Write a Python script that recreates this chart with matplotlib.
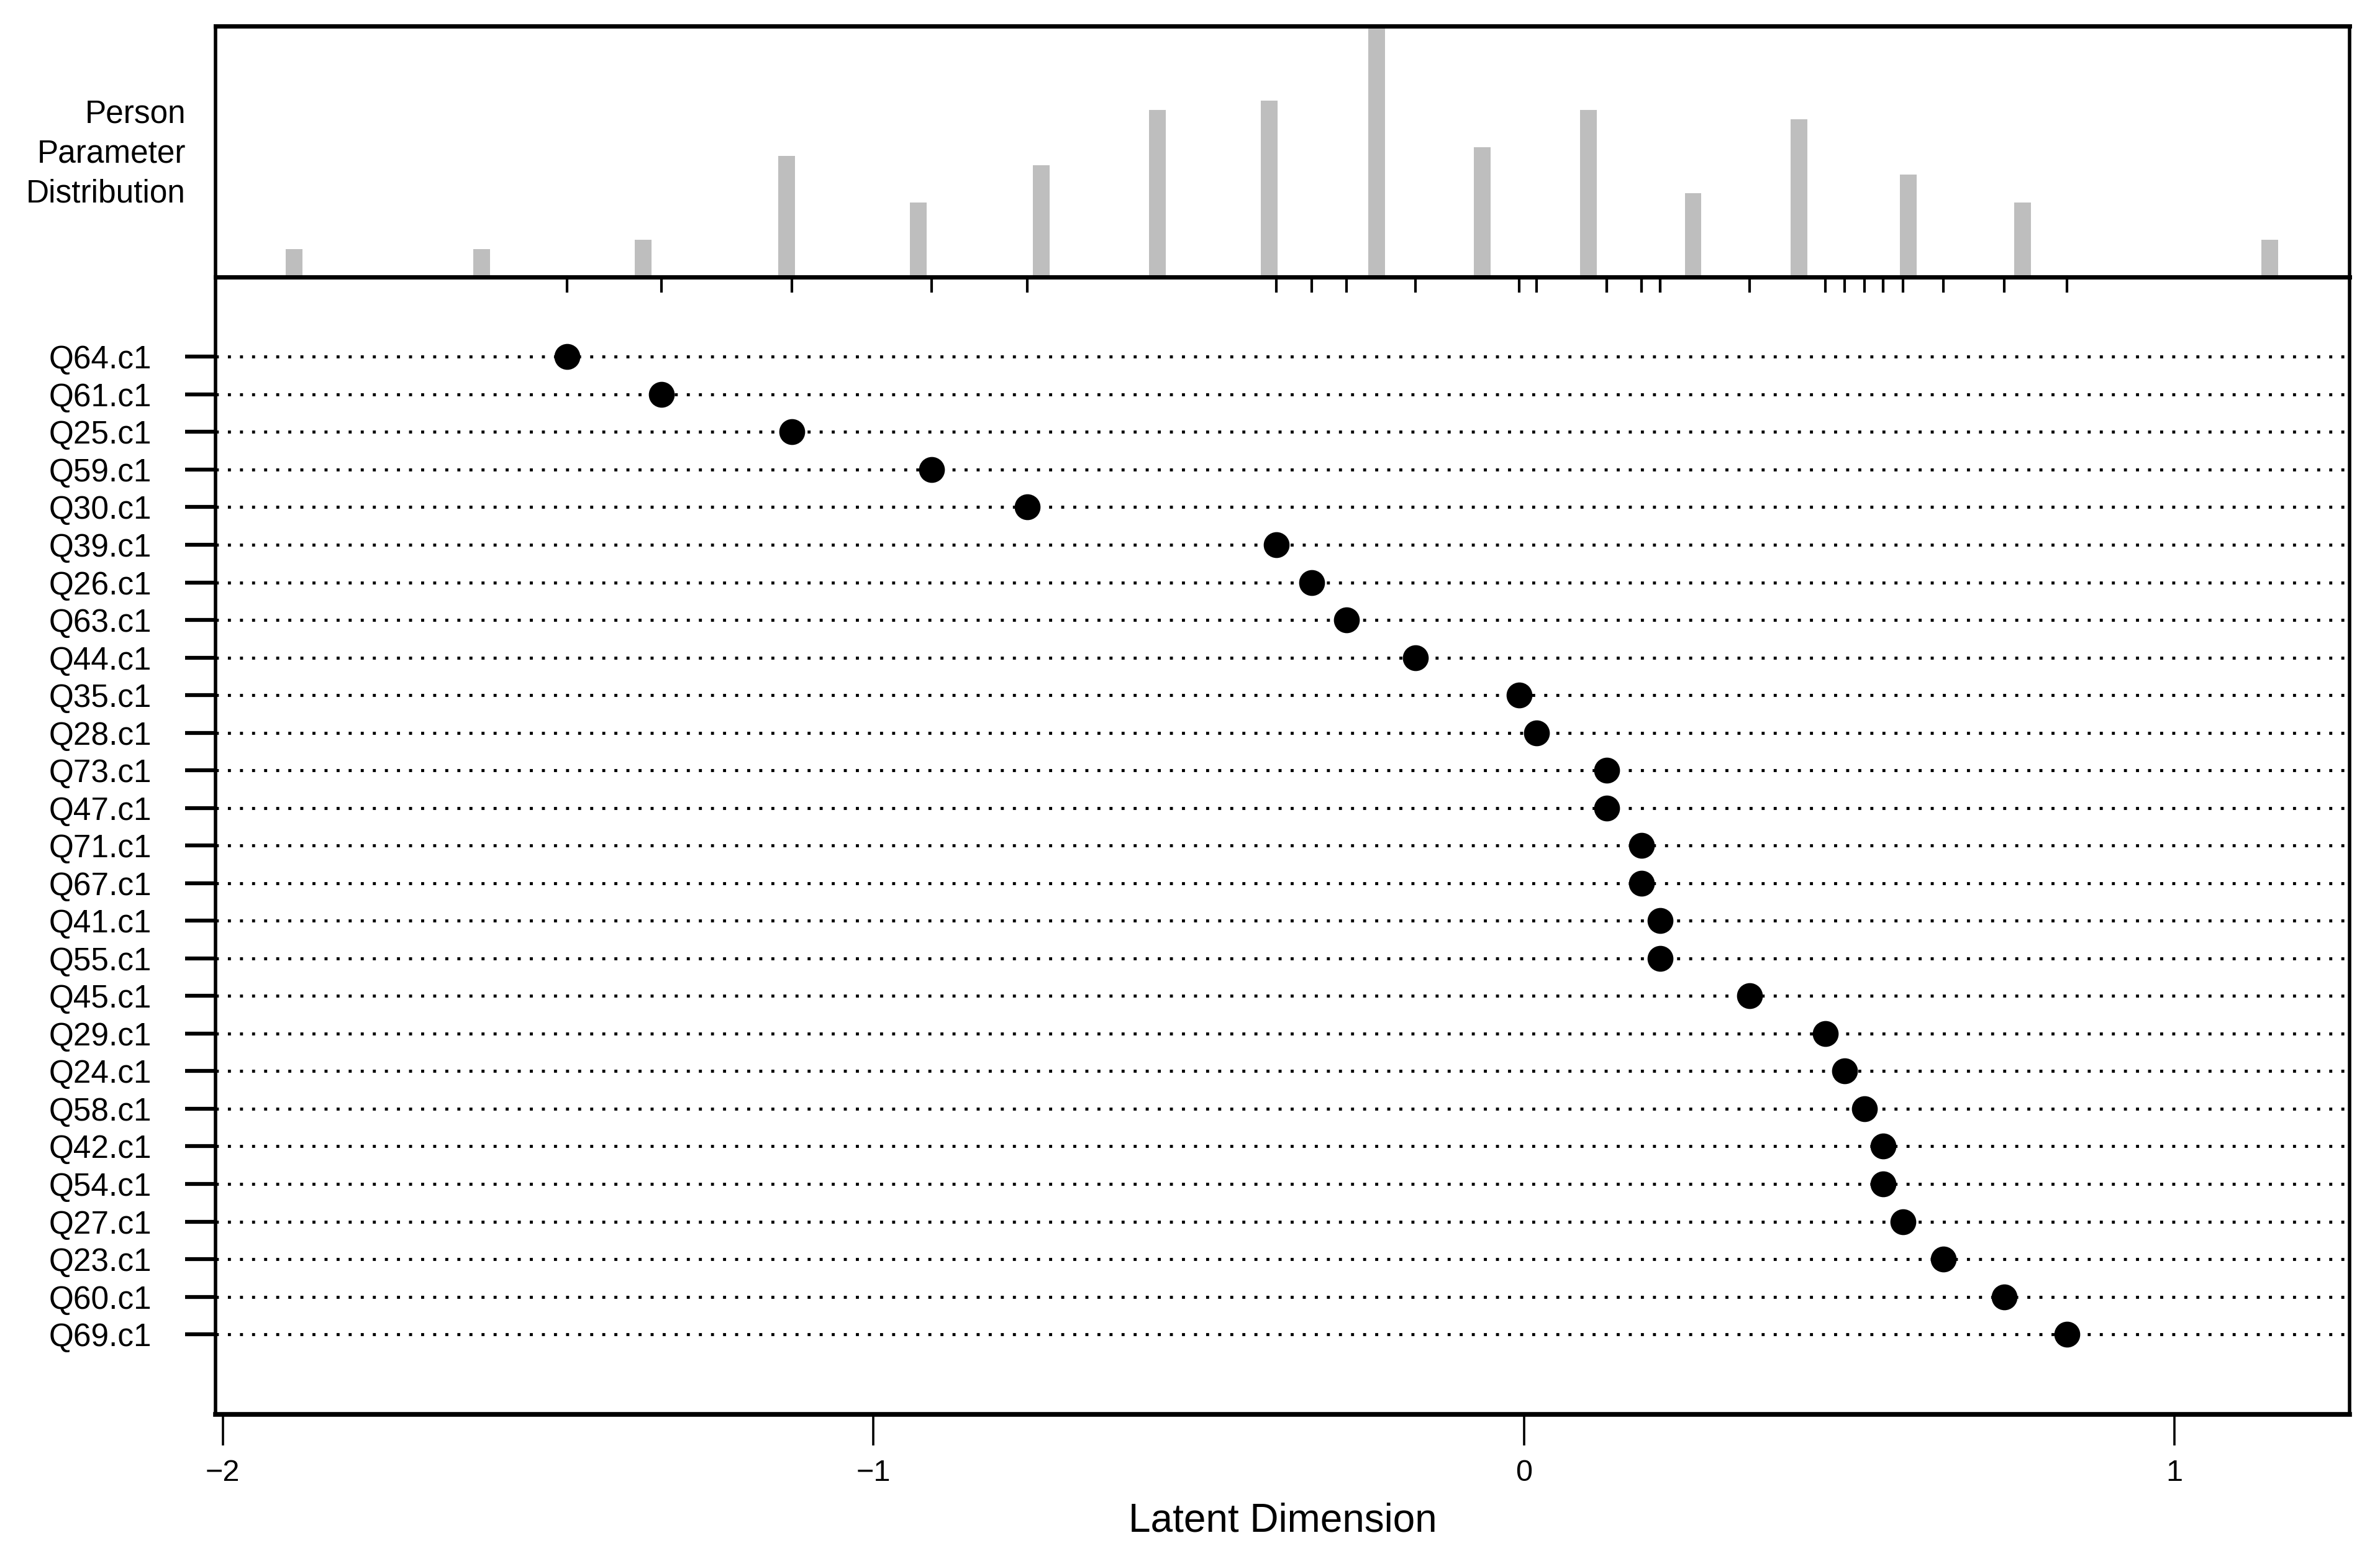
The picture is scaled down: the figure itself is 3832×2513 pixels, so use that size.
import numpy as np
import matplotlib.pyplot as plt

plt.rcParams['font.family'] = ['Liberation Sans', 'DejaVu Sans']

# item names (top to bottom) and their locations on the latent dimension
items = ['Q64.c1', 'Q61.c1', 'Q25.c1', 'Q59.c1', 'Q30.c1', 'Q39.c1', 'Q26.c1',
         'Q63.c1', 'Q44.c1', 'Q35.c1', 'Q28.c1', 'Q73.c1', 'Q47.c1', 'Q71.c1',
         'Q67.c1', 'Q41.c1', 'Q55.c1', 'Q45.c1', 'Q29.c1', 'Q24.c1', 'Q58.c1',
         'Q42.c1', 'Q54.c1', 'Q27.c1', 'Q23.c1', 'Q60.c1', 'Q69.c1']
item_loc = [-1.471, -1.326, -1.125, -0.910, -0.763, -0.381, -0.326,
            -0.273, -0.167, -0.007, 0.019, 0.127, 0.127, 0.181,
            0.181, 0.209, 0.209, 0.347, 0.463, 0.493, 0.523,
            0.552, 0.552, 0.583, 0.645, 0.738, 0.835]

# person parameter distribution (theta values and counts)
theta = [-1.890, -1.602, -1.354, -1.133, -0.931, -0.742, -0.563, -0.392,
         -0.226, -0.064, 0.099, 0.260, 0.423, 0.591, 0.766, 1.146]
theta_n = [3, 3, 4, 13, 8, 12, 18, 19, 27, 14, 18, 9, 17, 11, 8, 4]

xticks = [-2, -1, 0, 1]
xlim = (-2.011, 1.269)

fig = plt.figure(figsize=(38.32, 25.13), dpi=100)

# item map (bottom)
ax = fig.add_axes([0.0906, 0.0939, 0.8966, 0.7286])
rows = np.arange(len(items))
ax.hlines(rows, xlim[0], xlim[1], colors='black', linewidth=3.5,
          linestyles=[(0, (1, 3))], zorder=1)
ax.plot(item_loc, rows, 'o', color='black', markersize=29, zorder=3)
ax.set_xlim(xlim)
ax.set_ylim(len(items) - 1 + 2.13, -2.12)
ax.set_yticks(rows)
ax.set_yticklabels(items, fontsize=37)
ax.set_xticks(xticks)
ax.set_xticklabels([str(v).replace('-', '\u2212') for v in xticks], fontsize=35)
ax.tick_params(axis='y', length=35, width=4.5, pad=39)
ax.tick_params(axis='x', length=36, width=2.6, pad=16)
ax.set_xlabel('Latent Dimension', fontsize=46)
ax.xaxis.set_label_coords(0.5, -0.077)
for s in ['left', 'right']:
    ax.spines[s].set_linewidth(4)
ax.spines['bottom'].set_linewidth(5.5)
ax.spines['top'].set_visible(False)

# person parameter distribution (top)
ax_top = fig.add_axes([0.0906, 0.8225, 0.8966, 0.1608])
ax_top.bar(theta, theta_n, width=0.0257, color='#bebebe', zorder=1)
ax_top.set_xlim(xlim)
ax_top.set_ylim(0, max(theta_n))
ax_top.set_yticks([])
ax_top.set_xticks(item_loc)
ax_top.tick_params(axis='x', direction='out', length=18, width=3,
                   labelbottom=False)
for s in ['left', 'right']:
    ax_top.spines[s].set_linewidth(4)
for s in ['top', 'bottom']:
    ax_top.spines[s].set_linewidth(5)
ax_top.text(-0.014, 0.49, 'Person\nParameter\nDistribution', transform=ax_top.transAxes,
            ha='right', va='center', multialignment='right', fontsize=37,
            linespacing=1.4)

fig.savefig('out.png', dpi=100)
